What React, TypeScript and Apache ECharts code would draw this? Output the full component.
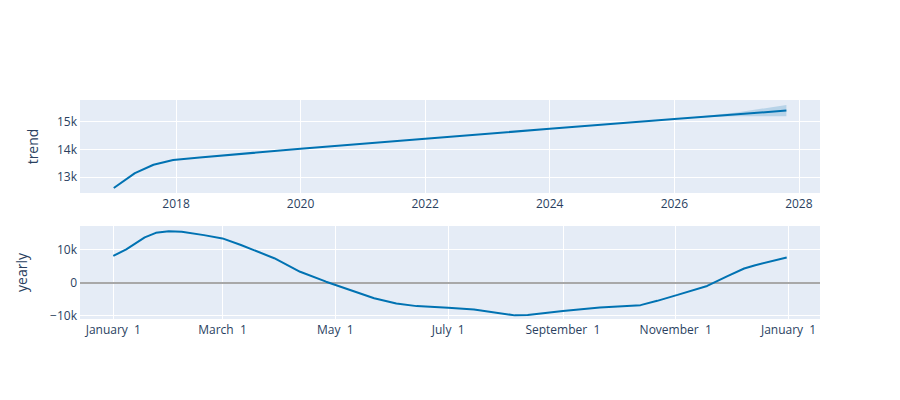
import React, { useEffect, useRef } from 'react';
import * as echarts from 'echarts';

// trend component (piecewise linear)
const trendDates = ['2017-01-01', '2017-05-05', '2017-08-22', '2017-12-15', '2018-05-20', '2020-01-01', '2022-01-01', '2024-01-01', '2026-01-01', '2027-10-20'];
const trendValues = [12600, 13140, 13440, 13610, 13700, 14020, 14380, 14740, 15090, 15400];

// uncertainty band on the forecast part of the trend
const bandDates = ['2026-04-01', '2027-01-01', '2027-10-20'];
const bandLower = [15140, 15190, 15190];
const bandUpper = [15150, 15330, 15600];

// yearly seasonality
const yearlyDates = [
  '2017-01-01', '2017-01-08', '2017-01-18', '2017-01-24', '2017-01-31', '2017-02-07', '2017-02-19', '2017-03-01',
  '2017-03-11', '2017-03-29', '2017-04-12', '2017-04-26', '2017-05-09', '2017-05-22', '2017-06-03', '2017-06-14',
  '2017-07-01', '2017-07-15', '2017-08-06', '2017-08-13', '2017-09-01', '2017-09-21', '2017-10-13', '2017-10-22',
  '2017-11-02', '2017-11-18', '2017-11-29', '2017-12-08', '2017-12-14', '2017-12-31',
];
const yearlyValues = [
  8000, 10000, 13600, 15000, 15500, 15300, 14300, 13300,
  11300, 7300, 3200, 200, -2300, -4800, -6400, -7200,
  -7700, -8200, -10000, -9900, -8700, -7600, -6900, -5600,
  -3800, -1100, 1900, 4200, 5200, 7500,
];

const trendTicks = ['2018-01-01', '2020-01-01', '2022-01-01', '2024-01-01', '2026-01-01', '2028-01-01'];
const yearlyTicks = ['2017-01-01', '2017-03-01', '2017-05-01', '2017-07-01', '2017-09-01', '2017-11-01', '2018-01-01'];
const trendYTicks = [13000, 14000, 15000];
const yearlyYTicks = [-10000, 0, 10000];
const monthNames = ['January', 'February', 'March', 'April', 'May', 'June', 'July', 'August', 'September', 'October', 'November', 'December'];

// dates go on plain value axes (ms), so custom tick positions work
const ts = (d: string) => new Date(d + 'T00:00:00').getTime();
const kFmt = (v: number) => (v === 0 ? '0' : (v < 0 ? '\u2212' : '') + Math.abs(v / 1000) + 'k');

const App: React.FC = () => {
  const chartRef = useRef<HTMLDivElement>(null);

  useEffect(() => {
    if (!chartRef.current) return;
    const chart = echarts.init(chartRef.current, null, { renderer: 'svg' });

    const textColor = '#2a3f5f';
    const font = '"Open Sans", "Noto Sans", sans-serif';
    const grids = [
      { left: 80, right: 80, top: 100, height: 93 },
      { left: 80, right: 80, top: 226, height: 93 },
    ];

    const axisBase = {
      type: 'value' as const,
      axisLine: { show: false },
      splitLine: { show: true, lineStyle: { color: '#ffffff', width: 1 } },
    };
    const labelBase = { color: textColor, fontFamily: font, fontSize: 12, hideOverlap: false };
    const yName = {
      nameLocation: 'middle' as const,
      nameRotate: 90,
      nameTextStyle: { color: textColor, fontFamily: font, fontSize: 14 },
    };

    const bandData = bandDates.map((d, i) => [ts(d), bandLower[i], bandUpper[i]]);

    const option: any = {
      animation: false,
      textStyle: { fontFamily: font },
      grid: grids.map(g => ({ ...g, show: true, backgroundColor: '#E5ECF6', borderWidth: 0 })),
      xAxis: [
        {
          ...axisBase,
          gridIndex: 0,
          min: ts('2016-06-17'),
          max: ts('2028-05-04'),
          axisTick: { show: false, customValues: trendTicks.map(ts) },
          axisLabel: {
            ...labelBase,
            margin: 4,
            customValues: trendTicks.map(ts),
            formatter: (v: number) => String(new Date(v).getFullYear()),
          },
        },
        {
          ...axisBase,
          gridIndex: 1,
          min: ts('2016-12-14'),
          max: ts('2018-01-18'),
          axisTick: { show: false, customValues: yearlyTicks.map(ts) },
          axisLabel: {
            ...labelBase,
            margin: 4,
            customValues: yearlyTicks.map(ts),
            formatter: (v: number) => {
              const d = new Date(v);
              return monthNames[d.getMonth()] + '\u00a0 ' + d.getDate();
            },
          },
        },
      ],
      yAxis: [
        {
          ...axisBase,
          ...yName,
          gridIndex: 0,
          min: 12420,
          max: 15780,
          name: 'trend',
          nameGap: 41,
          axisTick: { show: false, customValues: trendYTicks },
          axisLabel: { ...labelBase, margin: 3, customValues: trendYTicks, formatter: kFmt },
        },
        {
          ...axisBase,
          ...yName,
          gridIndex: 1,
          min: -11100,
          max: 17060,
          name: 'yearly',
          nameGap: 52,
          axisTick: { show: false, customValues: yearlyYTicks },
          axisLabel: { ...labelBase, margin: 3, customValues: yearlyYTicks, formatter: kFmt },
        },
      ],
      series: [
        {
          // uncertainty band: one polygon through upper points, back along lower points
          name: 'trend_band',
          type: 'custom',
          xAxisIndex: 0,
          yAxisIndex: 0,
          encode: { x: 0, y: [1, 2] },
          data: bandData,
          renderItem: (params: any, api: any) => {
            if (params.dataIndex !== 0) return null;
            const upper = bandData.map(p => api.coord([p[0], p[2]]));
            const lower = bandData.map(p => api.coord([p[0], p[1]])).reverse();
            return {
              type: 'polygon',
              shape: { points: upper.concat(lower) },
              style: { fill: 'rgba(0,114,178,0.2)' },
            };
          },
          z: 1,
        },
        {
          name: 'trend',
          type: 'line',
          xAxisIndex: 0,
          yAxisIndex: 0,
          symbol: 'none',
          lineStyle: { color: '#0072B2', width: 2 },
          data: trendDates.map((d, i) => [ts(d), trendValues[i]]),
          z: 3,
        },
        {
          name: 'yearly',
          type: 'line',
          xAxisIndex: 1,
          yAxisIndex: 1,
          symbol: 'none',
          lineStyle: { color: '#0072B2', width: 2 },
          data: yearlyDates.map((d, i) => [ts(d), yearlyValues[i]]),
          markLine: {
            silent: true,
            symbol: 'none',
            label: { show: false },
            lineStyle: { color: '#A8A8A8', width: 2, type: 'solid' },
            data: [{ yAxis: 0 }],
            z: 1,
          },
          z: 3,
        },
      ],
    };

    chart.setOption(option);
    return () => chart.dispose();
  }, []);

  return <div ref={chartRef} style={{ width: 900, height: 400, margin: -8 }} />;
};

export default App;
